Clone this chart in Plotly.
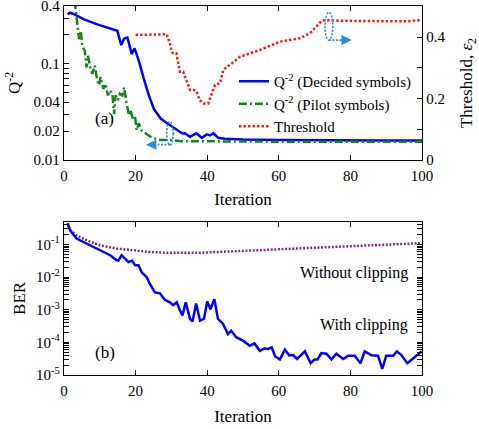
import numpy as np
import plotly.graph_objects as go

# ---------------- data ----------------
# (a) Q^-2 decided symbols
dec_x = [1, 1.7, 2.8, 5.6, 9.3, 12.1, 14.9, 16, 16.8, 17.7, 18.9, 19.7, 20.9, 22.3, 23.7, 25.1,
         27, 28.9, 31.2, 33.1, 33.8, 35.2, 37, 38.5, 39.9, 40.8, 41.7, 43.1, 45, 50, 60, 70, 80, 90, 100]
dec_y = [0.328, 0.341, 0.33, 0.291, 0.258, 0.239, 0.221, 0.157, 0.184, 0.188, 0.127, 0.145, 0.108,
         0.070, 0.047, 0.034, 0.027, 0.024, 0.0212, 0.0189, 0.019, 0.0174, 0.019, 0.017, 0.0185,
         0.018, 0.019, 0.017, 0.0166, 0.0163, 0.0161, 0.016, 0.016, 0.016, 0.016]
# (a) Q^-2 pilot symbols
pil_x = [3.0, 3.7, 4.2, 4.7, 5.1, 5.8, 6.3, 6.7, 7.4, 7.9, 8.6, 9.3, 9.8, 10.2, 11, 11.6, 12.3, 12.8,
         13.5, 14, 14.4, 15.1, 15.6, 16.3, 16.8, 17.5, 18.2, 18.6, 19.3, 19.8, 20.3, 20.9, 21.6,
         22.8, 24.7, 27, 29.8, 33, 40, 50, 60, 70, 80, 90, 100]
pil_y = [0.45, 0.248, 0.181, 0.221, 0.155, 0.137, 0.092, 0.122, 0.089, 0.079, 0.096, 0.067, 0.060,
         0.073, 0.055, 0.062, 0.047, 0.053, 0.049, 0.030, 0.047, 0.042, 0.049, 0.047, 0.057, 0.0385,
         0.029, 0.033, 0.026, 0.029, 0.0204, 0.024, 0.0204, 0.0189, 0.017, 0.0161, 0.0161, 0.0157,
         0.0156, 0.0155, 0.0155, 0.0155, 0.0155, 0.0155, 0.0155]
# (a) threshold epsilon_2
thr_x = [20, 28.7, 29.6, 30.1, 30.5, 31.4, 32.4, 33.3, 35.2, 36.1, 37, 37.9, 38.9, 40.3, 41.3, 42.2,
         43.6, 44.5, 45.5, 46.4, 49.2, 54.7, 60.3, 65.9, 68.7, 72, 73.3, 77, 85, 95.6, 99.4]
thr_y = [0.407, 0.409, 0.379, 0.352, 0.347, 0.347, 0.287, 0.287, 0.228, 0.228, 0.224, 0.195, 0.184,
         0.184, 0.217, 0.244, 0.25, 0.293, 0.303, 0.31, 0.336, 0.358, 0.385, 0.396, 0.412, 0.453,
         0.455, 0.453, 0.452, 0.451, 0.455]

# (b) BER without clipping
noc_x = [1, 1.7, 3.5, 6.3, 10, 14.7, 19.4, 24, 28.7, 38, 47.3, 58.4, 67.8, 77.1, 86.4, 99.4]
noc_y = [0.45, 0.28, 0.19, 0.136, 0.095, 0.075, 0.067, 0.059, 0.056, 0.056, 0.062, 0.07, 0.079,
         0.089, 0.098, 0.11]
# (b) BER with clipping
clp_x = [1, 1.7, 3.5, 6.3, 10, 12.9, 14.7, 15.2, 16.1, 17, 18, 19, 19.9, 20.8, 21.7, 23.1, 24,
         25.4, 26.8, 28.2, 29.6, 30.5, 31.5, 32.4, 33.1, 34, 35.2, 35.9, 36.9, 38, 39.1, 40, 40.9,
         42, 43, 44.4, 45.8, 46.7, 48.1, 50, 51.9, 53.2, 54.7, 56, 57, 58, 59, 60.3, 61.7, 62.9, 64,
         65.1, 67.3, 68.9, 70, 70.8, 71.9, 73.3, 74.7, 76.1, 78, 79.4, 81.2, 82.8, 84, 85.9, 87.7,
         88.9, 90, 91.9, 93, 94.3, 95.9, 97.5, 99.9]
clp_y = [0.45, 0.27, 0.153, 0.107, 0.067, 0.047, 0.033, 0.032, 0.047, 0.038, 0.029, 0.032, 0.023,
         0.023, 0.014, 0.010, 0.0062, 0.0034, 0.0032, 0.0020, 0.0017, 0.00138, 0.0017, 0.00095,
         0.00067, 0.0017, 0.00053, 0.00044, 0.00155, 0.00046, 0.00053, 0.0018, 0.00104, 0.0021,
         0.00053, 0.00037, 0.00018, 0.00023, 0.000144, 0.000113, 7.9e-5, 9.3e-5, 5.5e-5, 6.5e-5,
         6.3e-5, 7e-5, 3.7e-5, 3e-5, 6e-5, 4e-5, 4.1e-5, 3.1e-5, 5.3e-5, 2.3e-5, 3e-5, 3e-5, 4.7e-5,
         4.5e-5, 3e-5, 4.5e-5, 3.1e-5, 3.9e-5, 3.9e-5, 2.3e-5, 5.3e-5, 4e-5, 3.9e-5, 1.55e-5, 3.9e-5,
         3.9e-5, 5.3e-5, 4e-5, 2.3e-5, 3.2e-5, 5.3e-5]

x_ticks = [0, 20, 40, 60, 80, 100]
q_ticks = [0.01, 0.02, 0.04, 0.1, 0.4]
q_ticktext = ["0.01", "0.02", "0.04", "0.1", "0.4"]
q_minor = [0.03, 0.05, 0.06, 0.07, 0.08, 0.09, 0.2, 0.3]
thr_ticks = [0, 0.2, 0.4]
thr_ticktext = ["0", "0.2", "0.4"]
thr_minor = [0.1, 0.3]
ber_ticks = [1e-1, 1e-2, 1e-3, 1e-4, 1e-5]
ber_ticktext = ["10<sup>-1</sup>", "10<sup>-2</sup>", "10<sup>-3</sup>", "10<sup>-4</sup>", "10<sup>-5</sup>"]
ber_minor = [m * 10.0 ** e for e in range(-5, 0) for m in range(2, 10) if m * 10.0 ** e <= 0.5]

# ---------------- figure ----------------
FONT = "Liberation Serif"
W, H = 479, 429
BLUE = "#0000FF"
GREEN = "#11871A"
RED = "#FF1A1A"
PURPLE = "#7E2F8E"
CYAN = "#2A8CD6"

fig = go.Figure()
fig.add_trace(go.Scatter(x=dec_x, y=dec_y, mode="lines", name="Q<sup>-2</sup> (Decided symbols)",
                         line=dict(color=BLUE, width=2.5), xaxis="x", yaxis="y"))
fig.add_trace(go.Scatter(x=pil_x, y=pil_y, mode="lines", name="Q<sup>-2</sup> (Pilot symbols)",
                         line=dict(color=GREEN, width=2.5, dash="8px,3px,2px,3px"), xaxis="x", yaxis="y"))
fig.add_trace(go.Scatter(x=thr_x, y=thr_y, mode="lines", name="Threshold",
                         line=dict(color=RED, width=2.5, dash="2.5px,2px"), xaxis="x", yaxis="y2"))
fig.add_trace(go.Scatter(x=noc_x, y=noc_y, mode="lines", showlegend=False,
                         line=dict(color=PURPLE, width=2.5, dash="2px,1.6px"), xaxis="x3", yaxis="y3"))
fig.add_trace(go.Scatter(x=clp_x, y=clp_y, mode="lines", showlegend=False,
                         line=dict(color=BLUE, width=2.5), xaxis="x3", yaxis="y3"))

x0d, x1d = 64 / W, 422 / W
top_dom = [1 - 160 / H, 1 - 6 / H]
bot_dom = [1 - 375 / H, 1 - 221.7 / H]
q_range = [-2, -0.3975]
ber_range = [-5, -0.3]

tickfont = dict(family=FONT, size=15, color="black")
titlefont = dict(family=FONT, size=17, color="black")
axcommon = dict(showline=True, linecolor="black", linewidth=1.3, ticks="inside", ticklen=5,
                tickwidth=1, tickcolor="black", showgrid=False, zeroline=False, tickfont=tickfont,
                ticklabeloverflow="allow", automargin=False)

fig.update_layout(
    template="none",
    width=W, height=H, margin=dict(l=0, r=0, t=0, b=0, autoexpand=False),
    paper_bgcolor="white", plot_bgcolor="white",
    font=dict(family=FONT, size=15, color="black"),
    xaxis=dict(domain=[x0d, x1d], range=[0, 100], tickvals=x_ticks, mirror="ticks", anchor="y",
               ticklabelstandoff=2,
               title=dict(text="Iteration", font=titlefont, standoff=9), **axcommon),
    yaxis=dict(domain=top_dom, type="log", range=q_range, tickmode="array",
               tickvals=q_ticks + q_minor, ticktext=q_ticktext + [" "] * len(q_minor), anchor="x",
               title=dict(text="Q<sup>-2</sup>", font=titlefont, standoff=8), **axcommon),
    yaxis2=dict(domain=top_dom, range=[0, 0.501], overlaying="y", side="right", anchor="x",
                tickmode="array", tickvals=thr_ticks + thr_minor,
                ticktext=thr_ticktext + [" "] * len(thr_minor),
                title=dict(text="Threshold, <i>ε</i><sub>2</sub>", font=titlefont, standoff=16),
                **axcommon),
    xaxis3=dict(domain=[x0d, x1d], range=[0, 100], tickvals=x_ticks, mirror="ticks", anchor="y3",
                ticklabelstandoff=2,
                title=dict(text="Iteration", font=titlefont, standoff=11), **axcommon),
    yaxis3=dict(domain=bot_dom, type="log", range=ber_range, tickmode="array",
                tickvals=ber_ticks + ber_minor, ticktext=ber_ticktext + [" "] * len(ber_minor),
                anchor="x3", mirror="ticks",
                title=dict(text="BER", font=titlefont, standoff=6), **axcommon),
    legend=dict(x=234 / W, y=1 - 65 / H, xanchor="left", yanchor="top", bgcolor="rgba(0,0,0,0)",
                font=dict(family=FONT, size=15, color="black"), tracegroupgap=0,
                itemwidth=30, borderwidth=0),
)

annfont = dict(family=FONT, size=16, color="black")
fig.add_annotation(text="(a)", xref="x domain", yref="y domain", x=0.081, y=0.194,
                   showarrow=False, font=dict(family=FONT, size=17, color="black"))
fig.add_annotation(text="(b)", xref="x3 domain", yref="y3 domain", x=0.08, y=0.075,
                   showarrow=False, font=dict(family=FONT, size=17, color="black"))
fig.add_annotation(text="Without clipping", xref="x3 domain", yref="y3 domain", x=0.966, y=0.737,
                   xanchor="right", showarrow=False, font=annfont)
fig.add_annotation(text="With clipping", xref="x3 domain", yref="y3 domain", x=0.966, y=0.254,
                   xanchor="right", showarrow=False, font=annfont)

# ellipse markers with arrows (top panel, in x / y2 coordinates)
dot = dict(color=CYAN, width=1.6, dash="2px,1.5px")
fig.add_shape(type="circle", xref="x", yref="y2", x0=28.7, x1=30.5, y0=0.049, y1=0.1245, line=dot)
fig.add_shape(type="line", xref="x", yref="y2", x0=29.6, x1=24.6, y0=0.05, y1=0.05, line=dot)
fig.add_annotation(x=22.9, y=0.05, ax=24.8, ay=0.05, xref="x", yref="y2", axref="x", ayref="y2",
                   showarrow=True, arrowhead=2, arrowsize=1.3, arrowwidth=1.6, arrowcolor=CYAN, text=" ")
fig.add_shape(type="circle", xref="x", yref="y2", x0=72.9, x1=75.1, y0=0.39, y1=0.48, line=dot)
fig.add_shape(type="line", xref="x", yref="y2", x0=74.0, x1=78.6, y0=0.39, y1=0.39, line=dot)
fig.add_annotation(x=80.4, y=0.39, ax=78.4, ay=0.39, xref="x", yref="y2", axref="x", ayref="y2",
                   showarrow=True, arrowhead=2, arrowsize=1.3, arrowwidth=1.6, arrowcolor=CYAN, text=" ")

fig.write_html("out.html")
